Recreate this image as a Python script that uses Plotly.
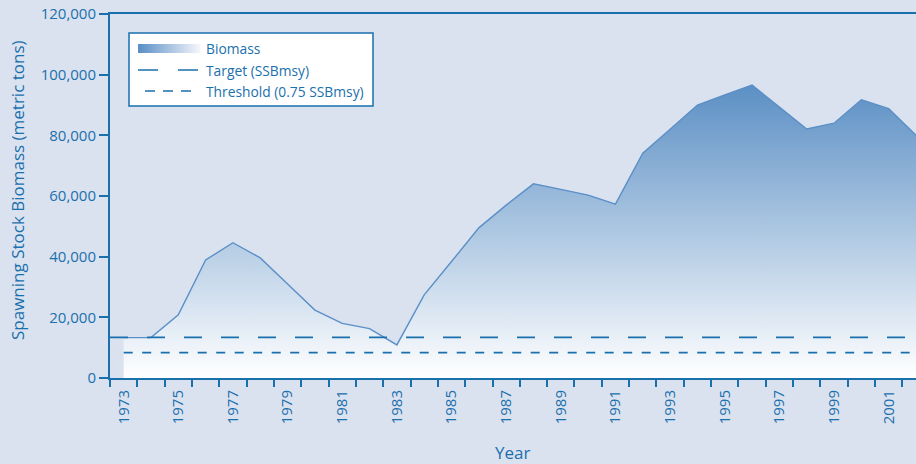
import plotly.graph_objects as go

# ---------------- data ----------------
years = list(range(1973, 2003))
biomass = [13300, 13300, 20800, 38900, 44600, 39600, 31000, 22400, 18000, 16300,
           10900, 27400, 38400, 49500, 57000, 64000, 62200, 60300, 57300, 74100,
           82000, 90000, 93300, 96600, 89300, 82100, 84000, 91700, 88800, 80000]
target = 13400        # SSBmsy
threshold = 8350      # 0.75 SSBmsy
tick_years = list(range(1973, 2003, 2))
y_ticks = [0, 20000, 40000, 60000, 80000, 100000, 120000]

legend_labels = ["Biomass", "Target (SSBmsy)", "Threshold (0.75 SSBmsy)"]
x_title = "Year"
y_title = "Spawning Stock Biomass (metric tons)"

# ---------------- styles ----------------
BG = "#dbe2ef"
BLUE = "#1a6fad"
LINE = "#5b8fc8"
FILL_TOP = "#5b8fc4"
FONT = "Open Sans"

W, H = 916, 464
L, R, T, B = 110, 916, 14, 378


def px_x(p):
    return (p - L) / (R - L)


def px_y(p):
    return (B - p) / (B - T)


fig = go.Figure()

fig.add_trace(go.Scatter(
    x=years, y=biomass, mode="lines", fill="tozeroy",
    line=dict(color=LINE, width=1.4),
    fillgradient=dict(type="vertical",
                      colorscale=[[0, "#ffffff"], [1, FILL_TOP]],
                      start=0, stop=97000),
    showlegend=False, name=legend_labels[0], hoverinfo="skip",
))

fig.update_layout(
    width=W, height=H,
    margin=dict(l=L, r=W - R, t=T, b=H - B, autoexpand=False),
    paper_bgcolor=BG, plot_bgcolor=BG,
    font=dict(family=FONT, color=BLUE),
    showlegend=False,
)

# reference lines
fig.add_shape(type="line", xref="x domain", yref="y", x0=0, x1=1, y0=target, y1=target,
              line=dict(color=BLUE, width=1.7, dash="18px,19px"), layer="above")
fig.add_shape(type="line", xref="x domain", yref="y", x0=0.017, x1=1, y0=threshold, y1=threshold,
              line=dict(color=BLUE, width=1.7, dash="9px,9.5px"), layer="above")

# ---------------- custom legend ----------------
fig.add_shape(type="rect", xref="paper", yref="paper",
              x0=px_x(129), x1=px_x(373), y0=px_y(106), y1=px_y(33),
              fillcolor="white", line=dict(color=BLUE, width=1.5), layer="above")
c0 = (91, 143, 198)
c1 = (242, 244, 250)
n = 31
sx0, sx1 = 138, 200
for i in range(n):
    f = i / (n - 1)
    col = "rgb(%d,%d,%d)" % tuple(round(c0[k] + (c1[k] - c0[k]) * f) for k in range(3))
    a = sx0 + (sx1 - sx0) * i / n
    b = sx0 + (sx1 - sx0) * (i + 1) / n + 0.3
    fig.add_shape(type="rect", xref="paper", yref="paper",
                  x0=px_x(a), x1=px_x(b), y0=px_y(53), y1=px_y(44),
                  fillcolor=col, line=dict(width=0), layer="above")
fig.add_shape(type="line", xref="paper", yref="paper",
              x0=px_x(138), x1=px_x(199), y0=px_y(70), y1=px_y(70),
              line=dict(color=BLUE, width=1.7, dash="20px,20px"), layer="above")
fig.add_shape(type="line", xref="paper", yref="paper",
              x0=px_x(145), x1=px_x(192), y0=px_y(91), y1=px_y(91),
              line=dict(color=BLUE, width=1.7, dash="10px,8px"), layer="above")

for lab, yy in zip(legend_labels, [48, 70, 91]):
    fig.add_annotation(text=lab, xref="paper", yref="paper",
                       x=px_x(204), y=px_y(yy), xanchor="left", yanchor="middle",
                       showarrow=False, font=dict(family=FONT, size=13.8, color=BLUE))

# axis titles
fig.add_annotation(text=x_title, xref="paper", yref="paper",
                   x=px_x(512), y=px_y(452), xanchor="center", yanchor="middle",
                   showarrow=False, font=dict(family=FONT, size=17, color=BLUE))
fig.add_annotation(text=y_title, xref="paper", yref="paper", textangle=-90,
                   x=px_x(18), y=px_y(190), xanchor="center", yanchor="middle",
                   showarrow=False, font=dict(family=FONT, size=17, color=BLUE))

fig.update_xaxes(
    range=[1972.5, 2002.0], automargin=False,
    tickmode="array", tickvals=tick_years, ticktext=[str(y) for y in tick_years],
    tickangle=-90, tickfont=dict(family=FONT, size=15, color=BLUE),
    ticks="", ticklabelstandoff=4,
    minor=dict(tickmode="linear", tick0=1972.5, dtick=1, ticks="outside",
               ticklen=7, tickwidth=1.5, tickcolor=BLUE, showgrid=False),
    showline=True, linecolor=BLUE, linewidth=2, mirror=True,
    showgrid=False, zeroline=False,
)
fig.update_yaxes(
    range=[0, 120000], automargin=False,
    tickmode="array", tickvals=y_ticks, tickformat=",",
    tickfont=dict(family=FONT, size=15, color=BLUE),
    ticks="outside", ticklen=9, tickwidth=1.5, tickcolor=BLUE,
    showline=True, linecolor=BLUE, linewidth=2,
    showgrid=False, zeroline=False,
)

fig.write_html(
    "out.html",
    config={"displayModeBar": False},
    post_script="document.body.style.margin='0';document.body.style.overflow='hidden';",
)
